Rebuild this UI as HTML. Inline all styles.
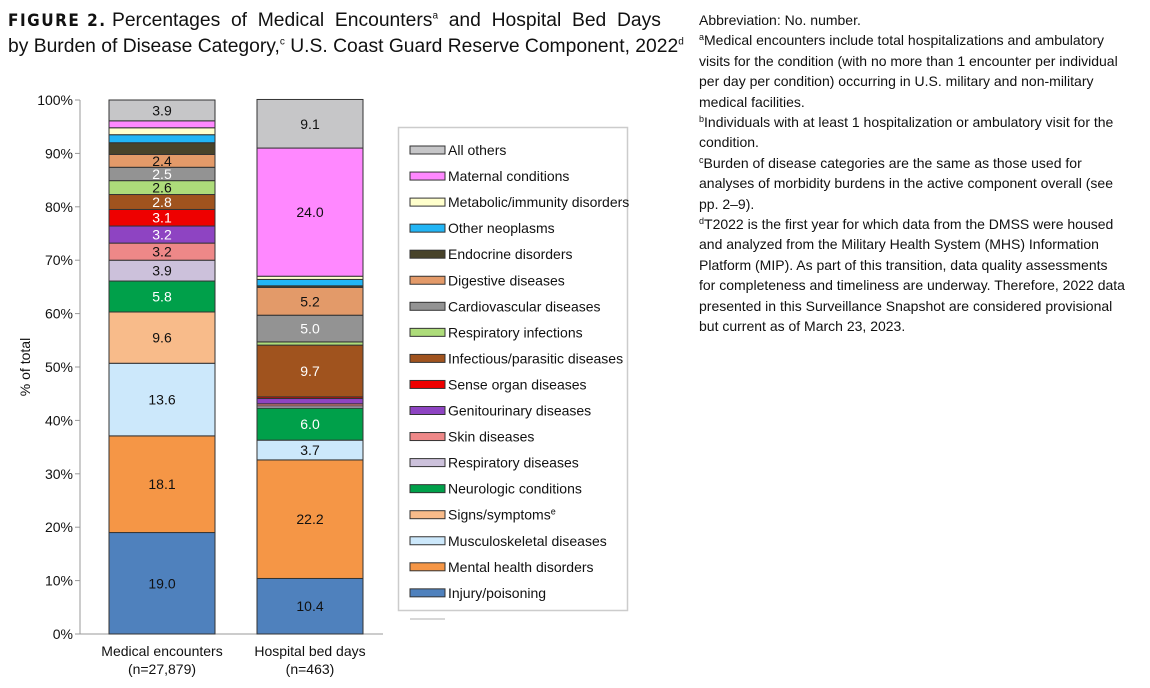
<!DOCTYPE html>
<html><head><meta charset="utf-8"><style>
body{margin:0;width:1150px;height:688px;background:#fff;font-family:"Liberation Sans",Arial,sans-serif;position:relative;overflow:hidden}
.t{position:absolute;white-space:nowrap}
sup{line-height:0}
#note{position:absolute;left:699px;top:10px;width:428px;font-size:14px;line-height:20.4px;color:#111}
#note sup{font-size:9px;vertical-align:5px}
</style></head><body>
<div class="t" style="left:8px;top:8px;font-size:19.3px;line-height:26px;color:#111">
<span style="font-weight:bold;letter-spacing:1.5px;font-family:'DejaVu Sans Condensed','Liberation Sans',sans-serif;font-size:17px">FIGURE 2.</span> Percentages &nbsp;of &nbsp;Medical &nbsp;Encounters<sup style="font-size:10px">a</sup> &nbsp;and &nbsp;Hospital &nbsp;Bed &nbsp;Days<br>by Burden of Disease Category,<sup style="font-size:10px">c</sup> U.S. Coast Guard Reserve Component, 2022<sup style="font-size:10px">d</sup></div>
<div id="note">Abbreviation: No. number.<br><sup>a</sup>Medical encounters include total hospitalizations and ambulatory visits for the condition (with no more than 1 encounter per individual per day per condition) occurring in U.S. military and non-military medical facilities.<br><sup>b</sup>Individuals with at least 1 hospitalization or ambulatory visit for the condition.<br><sup>c</sup>Burden of disease categories are the same as those used for analyses of morbidity burdens in the active component overall (see pp. 2–9).<br><sup>d</sup>T2022 is the first year for which data from the DMSS were housed and analyzed from the Military Health System (MHS) Information Platform (MIP). As part of this transition, data quality assessments for completeness and timeliness are underway. Therefore, 2022 data presented in this Surveillance Snapshot are considered provisional but current as of March 23, 2023.</div>
<svg id="c" width="700" height="688" style="position:absolute;left:0;top:0"></svg>
<script>
const categories=["Injury/poisoning","Mental health disorders","Musculoskeletal diseases","Signs/symptoms","Neurologic conditions","Respiratory diseases","Skin diseases","Genitourinary diseases","Sense organ diseases","Infectious/parasitic diseases","Respiratory infections","Cardiovascular diseases","Digestive diseases","Endocrine disorders","Other neoplasms","Metabolic/immunity disorders","Maternal conditions","All others"];
const colors=["#4f81bd","#f59646","#cce8fb","#f8bb8a","#00a04a","#ccc1db","#ee8888","#8e44c2","#ee0000","#a0531e","#addc7a","#939393","#e39a69","#48432a","#22b5f5","#ffffcc","#ff88ff","#c6c6c8"];
const labelColors=["#111","#111","#111","#111","#fff","#111","#111","#fff","#fff","#fff","#111","#fff","#111","#fff","#111","#111","#111","#111"];
const groups=["Medical encounters","Hospital bed days"];
const groupN=["(n=27,879)","(n=463)"];
const medical=[19.0,18.1,13.6,9.6,5.8,3.9,3.2,3.2,3.1,2.8,2.6,2.5,2.4,2.2,1.5,1.3,1.3,3.9];
const hospital=[10.4,22.2,3.7,0.0,6.0,0.4,0.4,1.0,0.3,9.7,0.6,5.0,5.2,0.3,1.2,0.6,24.0,9.1];
const labeledMed=[1,1,1,1,1,1,1,1,1,1,1,1,1,0,0,0,0,1];
const labeledHosp=[1,1,1,0,1,0,0,0,0,1,0,1,1,0,0,0,1,1];
const yTicks=[0,10,20,30,40,50,60,70,80,90,100];
const NS="http://www.w3.org/2000/svg";
const svg=document.getElementById('c');
const y0=634,y1=100;
const y=v=>y0-(y0-y1)*v/100;
function mk(t,a){const e=document.createElementNS(NS,t);for(const k in a)e.setAttribute(k,a[k]);svg.appendChild(e);return e;}
const ax=mk('line',{x1:80,y1:y(0),x2:80,y2:y(100),stroke:'#999','stroke-width':1});


mk('line',{x1:80,y1:y(0),x2:383,y2:y(0),stroke:'#999','stroke-width':1});
yTicks.forEach(v=>{
  mk('line',{x1:75,x2:80,y1:y(v),y2:y(v),stroke:'#999'});
  const t=mk('text',{x:73,y:y(v)+5,'text-anchor':'end','font-size':14,fill:'#111'});
  t.textContent=v+'%';
  
  
});
const yt=mk('text',{x:0,y:0,'font-size':14,fill:'#111','text-anchor':'middle',transform:'translate(30,367) rotate(-90)'});
yt.textContent='% of total';


const barX=[109,257],bw=106;
[medical,hospital].forEach((ser,gi)=>{
  let cum=0;
  const lab=gi?labeledHosp:labeledMed;
  ser.forEach((v,i)=>{
    const top=y(cum+v),bot=y(cum);
    if(v>0){
    const r=mk('rect',{x:barX[gi],y:top,width:bw,height:Math.max(bot-top,0),fill:colors[i],stroke:'#333','stroke-width':1});
    
    
    }
    if(lab[i]){
      const t=mk('text',{x:barX[gi]+bw/2,y:(top+bot)/2+5,'text-anchor':'middle','font-size':14,fill:labelColors[i]});
      t.textContent=v.toFixed(1);
      
      
    }
    cum+=v;
  });
  const t1=mk('text',{x:barX[gi]+bw/2,y:656,'text-anchor':'middle','font-size':14,fill:'#111'});
  t1.textContent=groups[gi];
  
  
  const t2=mk('text',{x:barX[gi]+bw/2,y:674,'text-anchor':'middle','font-size':14,fill:'#111'});
  t2.textContent=groupN[gi];
  
  
});
const lg=mk('rect',{x:398.5,y:127.5,width:229,height:483,fill:'#fff',stroke:'#ccc','stroke-width':1.5});


for(let k=0;k<categories.length;k++){
  const i=categories.length-1-k;
  const yy=150+k*26.05;
  const s=mk('rect',{x:410,y:yy-4,width:35,height:8,fill:colors[i],stroke:'#333','stroke-width':1});
  
  
  const t=mk('text',{x:448,y:yy+5,'font-size':14,fill:'#111'});
  t.textContent=categories[i];
  if(categories[i]==='Signs/symptoms'){const sp=document.createElementNS(NS,'tspan');sp.setAttribute('font-size',9);sp.setAttribute('dy',-5);sp.textContent='e';t.appendChild(sp);}
  
  
}
mk('line',{x1:410,x2:445,y1:619,y2:619,stroke:'#ccc','stroke-width':1.5});
</script>
</body></html>
